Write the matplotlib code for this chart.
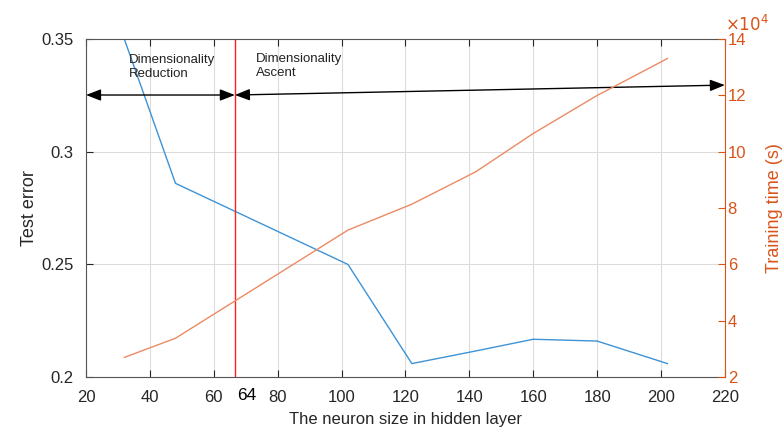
import numpy as np
import matplotlib
matplotlib.use('Agg')
import matplotlib.pyplot as plt
import matplotlib.transforms as mtransforms

# data
neurons = [32, 48, 102, 122, 142, 160, 180, 202]
test_error = [0.350, 0.286, 0.250, 0.206, 0.2116, 0.2168, 0.216, 0.206]
train_time = [2.70e4, 3.38e4, 7.22e4, 8.14e4, 9.29e4, 10.65e4, 12.0e4, 13.31e4]
split_x = 66.6

plt.rcParams['font.family'] = ['Liberation Sans', 'DejaVu Sans']
dark = '#262626'
orange = '#D95319'

fig = plt.figure(figsize=(7.82, 4.30), dpi=100)
ax = fig.add_axes([0.110, 0.123, 0.817, 0.786])

ax.plot(neurons, test_error, color='#3d93d6', lw=1.0, clip_on=True)
ax.axvline(split_x, color='#ff2020', lw=1.0)

ax.set_xlim(20, 220)
ax.set_ylim(0.2, 0.35)
ax.set_xticks(np.arange(20, 221, 20))
ax.set_yticks([0.2, 0.25, 0.3, 0.35])
ax.set_yticklabels(['0.2', '0.25', '0.3', '0.35'])
ax.grid(True, color='#dcdcdc', lw=0.8)
ax.set_axisbelow(True)
ax.tick_params(direction='in', top=True, colors=dark, labelsize=12, length=5)
ax.tick_params(axis='x', pad=9)
ax.tick_params(axis='y', pad=9)
for s in ['left', 'bottom', 'top']:
    ax.spines[s].set_color('#555555')
ax.spines['right'].set_visible(False)
ax.set_xlabel('The neuron size in hidden layer', fontsize=12, color=dark, labelpad=5)
ax.set_ylabel('Test error', fontsize=13, color=dark, labelpad=2)

# "64" label under the split line
trans = mtransforms.blended_transform_factory(ax.transData, ax.transAxes)
ax.text(split_x + 3.8, -0.033, '64', transform=trans, ha='center', va='top',
        fontsize=12.5, color='#000000')

# arrows
ax.annotate('', xy=(20, 0.3252), xytext=(split_x, 0.3252),
            arrowprops=dict(arrowstyle='<|-|>,head_length=0.9,head_width=0.35',
                            color='black', lw=1.0, shrinkA=0, shrinkB=0))
ax.annotate('', xy=(220, 0.3296), xytext=(split_x, 0.3252),
            arrowprops=dict(arrowstyle='<|-|>,head_length=0.9,head_width=0.35',
                            color='black', lw=1.0, shrinkA=0, shrinkB=0))
ax.text(33.3, 0.3435, 'Dimensionality\nReduction', fontsize=9.5, color='#222222',
        va='top', ha='left', linespacing=1.3)
ax.text(73.2, 0.344, 'Dimensionality\nAscent', fontsize=9.5, color='#222222',
        va='top', ha='left', linespacing=1.3)

ax2 = ax.twinx()
ax2.plot(neurons, np.array(train_time) / 1e4, color='#ec8a63', lw=1.0)
ax2.set_ylim(2, 14)
ax2.set_yticks(np.arange(2, 15, 2))
ax2.tick_params(direction='in', colors=orange, labelsize=12, length=5, pad=2)
ax2.spines['right'].set_color(orange)
for s in ['left', 'bottom', 'top']:
    ax2.spines[s].set_visible(False)
ax2.set_ylabel('Training time (s)', fontsize=13, color=orange, labelpad=14)
ax2.text(1.0, 1.015, r'$\times 10^{4}$', transform=ax2.transAxes, color=orange,
         fontsize=12, ha='left', va='bottom')

fig.savefig('out.png', dpi=100)
